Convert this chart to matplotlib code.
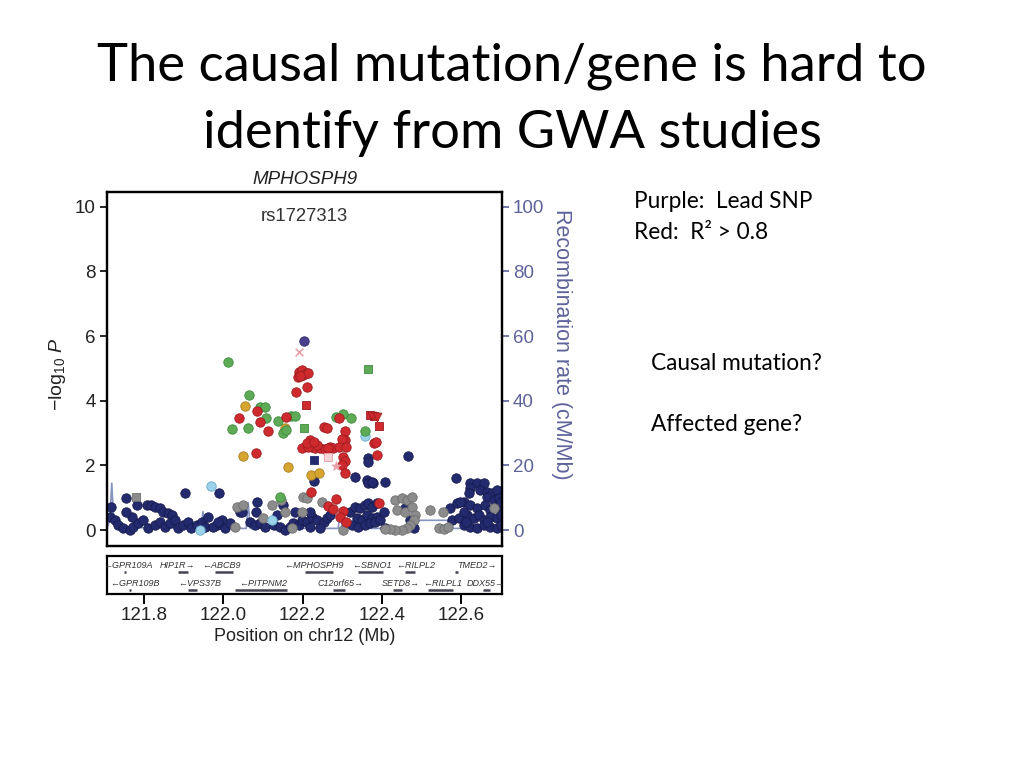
import matplotlib
matplotlib.use('Agg')
import matplotlib.pyplot as plt

plt.rcParams['font.family'] = ['Liberation Sans', 'DejaVu Sans']
plt.rcParams['mathtext.fontset'] = 'custom'
plt.rcParams['mathtext.rm'] = 'Liberation Sans'
plt.rcParams['mathtext.it'] = 'Liberation Sans:italic'

# ---------------- data (position Mb, -log10 P) ----------------
lead_x = [122.205]
lead_y = [5.86]

pink_x_x = [122.191]
pink_x_y = [5.52]
pink_sq_x = [122.263]
pink_sq_y = [2.27]
pink_star_x = [122.285]
pink_star_y = [1.98]

green_x = [122.011, 122.066, 122.093, 122.106, 122.107, 122.138, 122.170, 122.181,
           122.022, 122.063, 122.152, 122.159, 122.285, 122.302, 122.322, 122.358, 122.142]
green_y = [5.19, 4.18, 3.82, 3.82, 3.46, 3.37, 3.53, 3.53,
           3.12, 3.16, 2.99, 3.10, 3.49, 3.59, 3.46, 3.07, 1.01]
green_sq_x = [122.365, 122.205]
green_sq_y = [4.99, 3.17]

orange_x = [122.056, 122.157, 122.050, 122.163, 122.221, 122.241]
orange_y = [3.83, 3.17, 2.28, 1.94, 1.69, 1.76]

lblue_x = [122.358, 121.969, 121.941, 122.122]
lblue_y = [2.91, 1.37, 0.00, 0.31]

red_x = [122.192, 122.198, 122.211, 122.188, 122.202, 122.215, 122.194,
         122.183, 122.212, 122.086, 122.041, 122.092, 122.158, 122.114,
         122.253, 122.261, 122.291, 122.308, 122.306, 122.299, 122.379,
         122.386, 122.389,
         122.198, 122.219, 122.223, 122.232, 122.244, 122.257, 122.270,
         122.278, 122.291, 122.309, 122.215, 122.236, 122.265, 122.211,
         122.228, 122.082, 122.302, 122.308, 122.299, 122.308, 122.222,
         122.263, 122.284, 122.277, 122.303, 122.295, 122.310, 122.394]
red_y = [4.90, 4.95, 4.85, 4.75, 4.80, 4.87, 4.77,
         4.26, 4.42, 3.68, 3.47, 3.33, 3.49, 3.07,
         3.18, 3.15, 3.46, 3.07, 2.79, 2.81, 2.70,
         2.73, 2.32,
         2.55, 2.79, 2.58, 2.53, 2.53, 2.50, 2.58,
         2.53, 2.56, 2.56, 2.58, 2.63, 2.53, 2.68,
         2.73, 2.39, 2.27, 2.15, 2.01, 1.77, 1.17,
         0.75, 0.95, 0.64, 0.59, 0.41, 0.26, 0.83]
red_sq_x = [122.210, 122.392, 122.371, 122.381]
red_sq_y = [3.86, 3.22, 3.56, 3.53]
red_tri_x = [122.375, 122.388]
red_tri_y = [3.53, 3.50]

navy_sq_x = [122.228]
navy_sq_y = [2.17]

navy_x = [122.366, 122.365, 122.465, 122.229, 122.333, 122.362, 122.366, 122.378,
          122.409, 121.904, 121.990, 122.588, 121.756, 122.375,
          121.782, 121.807, 121.819, 121.828, 121.840, 121.849, 121.861, 121.870,
          121.718, 121.714, 121.727, 121.735, 121.748, 121.765, 121.773, 121.786,
          121.798, 121.769, 121.756, 121.811, 121.828, 121.840, 121.853, 121.866,
          121.878, 121.887, 121.899, 121.912, 121.920, 121.933, 121.946, 121.954,
          121.962, 121.984, 121.996, 122.005, 122.017, 121.975, 121.988,
          122.042, 122.085, 122.082, 122.047, 122.068, 122.080, 122.093, 122.106,
          122.127, 122.143, 122.156, 122.169, 122.177, 122.190, 122.198, 122.211,
          122.219, 122.223, 122.236, 122.253, 122.261, 122.270, 122.244,
          122.135, 122.181, 122.219, 122.152,
          122.320, 122.333, 122.345, 122.358, 122.366, 122.375, 122.388, 122.337,
          122.350, 122.362, 122.375, 122.388, 122.324, 122.341, 122.358, 122.371,
          122.383, 122.396, 122.405, 122.409, 122.459, 122.472, 122.480,
          122.573, 122.577,
          122.623, 122.640, 122.657, 122.623, 122.619, 122.648, 122.665, 122.678,
          122.691, 122.665, 122.682, 122.695, 122.590, 122.606, 122.623, 122.640,
          122.661, 122.674, 122.691, 122.700, 122.594, 122.615, 122.632, 122.644,
          122.657, 122.674, 122.691, 122.700, 122.606, 122.623, 122.640, 122.657,
          122.674, 122.691, 122.700, 122.611, 122.665, 122.598, 122.606]
navy_y = [2.22, 2.10, 2.28, 1.53, 1.63, 1.55, 1.45, 1.46,
          1.50, 1.14, 1.15, 1.60, 0.98, 1.48,
          0.77, 0.77, 0.77, 0.72, 0.67, 0.57, 0.52, 0.46,
          0.72, 0.41, 0.31, 0.15, 0.05, 0.00, 0.10, 0.21,
          0.31, 0.41, 0.57, 0.05, 0.15, 0.26, 0.10, 0.21,
          0.31, 0.05, 0.15, 0.26, 0.05, 0.15, 0.26, 0.10,
          0.41, 0.15, 0.31, 0.05, 0.21, 0.10, 0.26,
          0.57, 0.88, 0.57, 0.57, 0.26, 0.15, 0.21, 0.10,
          0.15, 0.10, 0.00, 0.10, 0.21, 0.15, 0.31, 0.26,
          0.10, 0.41, 0.31, 0.26, 0.36, 0.46, 0.05,
          0.46, 0.57, 0.57, 0.77,
          0.57, 0.72, 0.67, 0.77, 0.83, 0.72, 0.83, 0.36,
          0.31, 0.46, 0.36, 0.41, 0.15, 0.10, 0.15, 0.21,
          0.26, 0.31, 0.57, 0.05, 0.67, 0.31, 0.05,
          0.67, 0.31,
          1.45, 1.45, 1.45, 1.29, 1.14, 1.24, 1.19, 1.14,
          1.24, 1.03, 0.93, 0.98, 0.83, 0.88, 0.77, 0.67,
          0.77, 0.62, 0.72, 0.88, 0.36, 0.46, 0.36, 0.46,
          0.31, 0.41, 0.36, 0.46, 0.15, 0.10, 0.05, 0.15,
          0.10, 0.05, 0.15, 0.26, 0.26, 0.88, 0.57]

gray_sq_x = [121.779]
gray_sq_y = [1.03]
gray_x = [122.034, 122.030, 122.051, 122.101, 122.124, 122.145, 122.156, 122.173,
          122.198, 122.202, 122.211, 122.249, 122.303, 122.434, 122.451, 122.463,
          122.476, 122.438, 122.459, 122.476, 122.484, 122.480, 122.472, 122.463,
          122.451, 122.434, 122.421, 122.409, 122.522, 122.554, 122.543, 122.556,
          122.568, 122.682]
gray_y = [0.72, 0.10, 0.77, 0.36, 0.77, 0.93, 0.57, 0.05,
          0.57, 1.01, 0.98, 0.86, 0.00, 0.93, 0.98, 0.93,
          1.03, 0.62, 0.57, 0.72, 0.46, 0.31, 0.15, 0.05,
          0.00, 0.00, 0.02, 0.02, 0.62, 0.56, 0.05, 0.02,
          0.08, 0.67]

# recombination rate (cM/Mb)
recomb_x = [121.707, 121.714, 121.719, 121.724, 121.734, 121.944, 121.949, 121.954,
            122.058, 122.063, 122.068, 122.290, 122.295, 122.300, 122.446, 122.497,
            122.565, 122.578, 122.703]
recomb_y = [0.5, 3.0, 14.5, 3.0, 0.8, 0.5, 5.7, 0.5,
            0.5, 8.5, 0.5, 0.5, 5.7, 0.5, 0.5, 3.0,
            3.0, 0.5, 0.5]

# genes
gene_names = ['GPR109A', 'HIP1R', 'ABCB9', 'MPHOSPH9', 'SBNO1', 'RILPL2', 'TMED2',
              'GPR109B', 'VPS37B', 'PITPNM2', 'C12orf65', 'SETD8', 'RILPL1', 'DDX55']
gene_strand = ['-', '+', '-', '-', '-', '-', '+',
               '-', '-', '-', '+', '+', '-', '+']
gene_row = [0, 0, 0, 0, 0, 0, 0, 1, 1, 1, 1, 1, 1, 1]
gene_start = [121.749, 121.886, 121.979, 122.207, 122.340, 122.459, 122.585,
              121.762, 121.911, 122.030, 122.277, 122.429, 122.517, 122.654]
gene_end = [121.755, 121.911, 122.025, 122.277, 122.404, 122.484, 122.593,
            121.767, 121.934, 122.161, 122.308, 122.452, 122.580, 122.674]
gene_label_x = [121.760, 121.884, 121.996, 122.229, 122.376, 122.484, 122.640,
                121.777, 121.940, 122.100, 122.295, 122.447, 122.553, 122.661]

xticks = [121.8, 122.0, 122.2, 122.4, 122.6]
yticks = [0, 2, 4, 6, 8, 10]
rticks = [0, 20, 40, 60, 80, 100]

# ---------------- colours ----------------
NAVY = '#232a6e'
RED = '#cf2a2e'
GREEN = '#5dab57'
ORANGE = '#d6a530'
GRAY = '#8c8c8c'
LBLUE = '#9ad3ea'
PURPLE = '#4a3f8c'
PINK = '#e9a0a8'
RCOL = '#5d6299'

fig = plt.figure(figsize=(10.24, 7.68), dpi=100)
fig.patch.set_facecolor('white')

ax = fig.add_axes([107/1024, 1-546/768, 395/1024, 354/768])
ax2 = ax.twinx()
ax.set_zorder(ax2.get_zorder() + 1)
ax.patch.set_visible(False)

XL = (121.707, 122.703)
ax.set_xlim(*XL)
ax.set_ylim(-0.495, 10.46)
ax2.set_ylim(-4.95, 104.6)

ax2.plot(recomb_x, recomb_y, color='#8693c0', lw=1.2, zorder=1)

S = 46
def sc(x, y, c, m='o', s=S, z=3, ec=None):
    ax.scatter(x, y, s=s, c=c, marker=m, edgecolors=ec if ec else c,
               linewidths=0.6, zorder=z)

sc(navy_x, navy_y, NAVY, ec='#161b4d', z=2)
sc(gray_x, gray_y, GRAY, ec='#6e6e6e', z=2)
sc(gray_sq_x, gray_sq_y, GRAY, m='s', s=36, ec='#6e6e6e', z=2)
sc(navy_sq_x, navy_sq_y, NAVY, m='s', s=36, z=3)
sc(lblue_x, lblue_y, LBLUE, ec='#6aaac8', z=3)
sc(orange_x, orange_y, ORANGE, ec='#a88020', z=3)
sc(green_x, green_y, GREEN, ec='#3f8a3d', z=3)
sc(green_sq_x, green_sq_y, GREEN, m='s', s=36, ec='#3f8a3d', z=3)
sc(red_x, red_y, RED, ec='#9e1c20', z=4)
sc(red_sq_x, red_sq_y, RED, m='s', s=36, ec='#9e1c20', z=4)
sc(red_tri_x, red_tri_y, RED, m='v', s=40, ec='#9e1c20', z=4)
sc(pink_sq_x, pink_sq_y, '#f6d4d8', m='s', s=36, ec=PINK, z=4)
ax.scatter(pink_x_x, pink_x_y, s=30, c=PINK, marker='x', linewidths=1.2, zorder=5)
ax.scatter(pink_star_x, pink_star_y, s=50, c=PINK, marker='*', linewidths=0.5, zorder=5)
sc(lead_x, lead_y, PURPLE, ec='#2f2766', z=6)

for a in (ax, ax2):
    for sp in a.spines.values():
        sp.set_linewidth(1.6)
        sp.set_color('black')

ax.set_xticks([])
ax.set_yticks(yticks)
ax.set_yticklabels([str(v) for v in yticks])
ax.tick_params(axis='y', direction='out', length=5, width=1.2, labelsize=13.5, pad=3,
               labelcolor='#222222')
ax2.set_yticks(rticks)
ax2.set_yticklabels([str(v) for v in rticks])
ax2.tick_params(axis='y', direction='out', length=5, width=1.2, labelsize=13.5,
                pad=3, colors=RCOL)
ax2.set_xticks([])

ax.set_ylabel(r'$-\mathrm{log}_{10}\ \mathit{P}$', fontsize=14, color='#222222')
ax.yaxis.set_label_coords(-0.10, 0.485)
ax2.set_ylabel('Recombination rate (cM/Mb)', fontsize=15.5, color=RCOL,
               rotation=270, va='center')
ax2.yaxis.set_label_coords(1.150, 0.571)

ax.text(0.5, 1.012, 'MPHOSPH9', transform=ax.transAxes, ha='center', va='bottom',
        fontsize=13.5, style='italic', color='#222222')
ax.text(0.5, 0.955, 'rs1727313', transform=ax.transAxes, ha='center', va='top',
        fontsize=13.3, color='#333333')

# gene panel
gax = fig.add_axes([107/1024, 1-594/768, 395/1024, 38/768])
gax.set_xlim(*XL)
gax.set_ylim(0, 1)
for sp in gax.spines.values():
    sp.set_linewidth(1.6)
gax.set_yticks([])
gax.set_xticks(xticks)
gax.set_xticklabels(['%.1f' % v for v in xticks])
gax.tick_params(axis='x', direction='out', length=7, width=1.4, labelsize=13.5, pad=2,
                labelcolor='#222222')
gax.set_xlabel('Position on chr12 (Mb)', fontsize=13, labelpad=3, color='#222222')

row_text_y = [0.76, 0.27]
row_bar_y = [0.57, 0.11]
for name, strand, row, s0, s1, lx in zip(gene_names, gene_strand, gene_row,
                                         gene_start, gene_end, gene_label_x):
    label = ('\u2190' + name) if strand == '-' else (name + '\u2192')
    gax.text(lx, row_text_y[row], label, ha='center', va='center', fontsize=6.5,
             style='italic', color='#333333')
    gax.plot([s0, s1], [row_bar_y[row]] * 2, color='#444455', lw=1.8,
             solid_capstyle='butt')

# slide text
TF = ['Lato', 'DejaVu Sans']
fig.text(0.5, 1-80/768, 'The causal mutation/gene is hard to', ha='center',
         va='baseline', fontsize=37.8, family=TF)
fig.text(0.5, 1-148/768, 'identify from GWA studies', ha='center',
         va='baseline', fontsize=37.8, family=TF)
fig.text(634/1024, 1-208/768, 'Purple:  Lead SNP', fontsize=16.3, family=TF,
         va='baseline')
fig.text(634/1024, 1-239/768, 'Red:  R\u00b2 > 0.8', fontsize=16.3, family=TF,
         va='baseline')
fig.text(651/1024, 1-370/768, 'Causal mutation?', fontsize=16.3, family=TF,
         va='baseline')
fig.text(651/1024, 1-431/768, 'Affected gene?', fontsize=16.3, family=TF,
         va='baseline')

fig.savefig('out.png', dpi=100, facecolor='white')
